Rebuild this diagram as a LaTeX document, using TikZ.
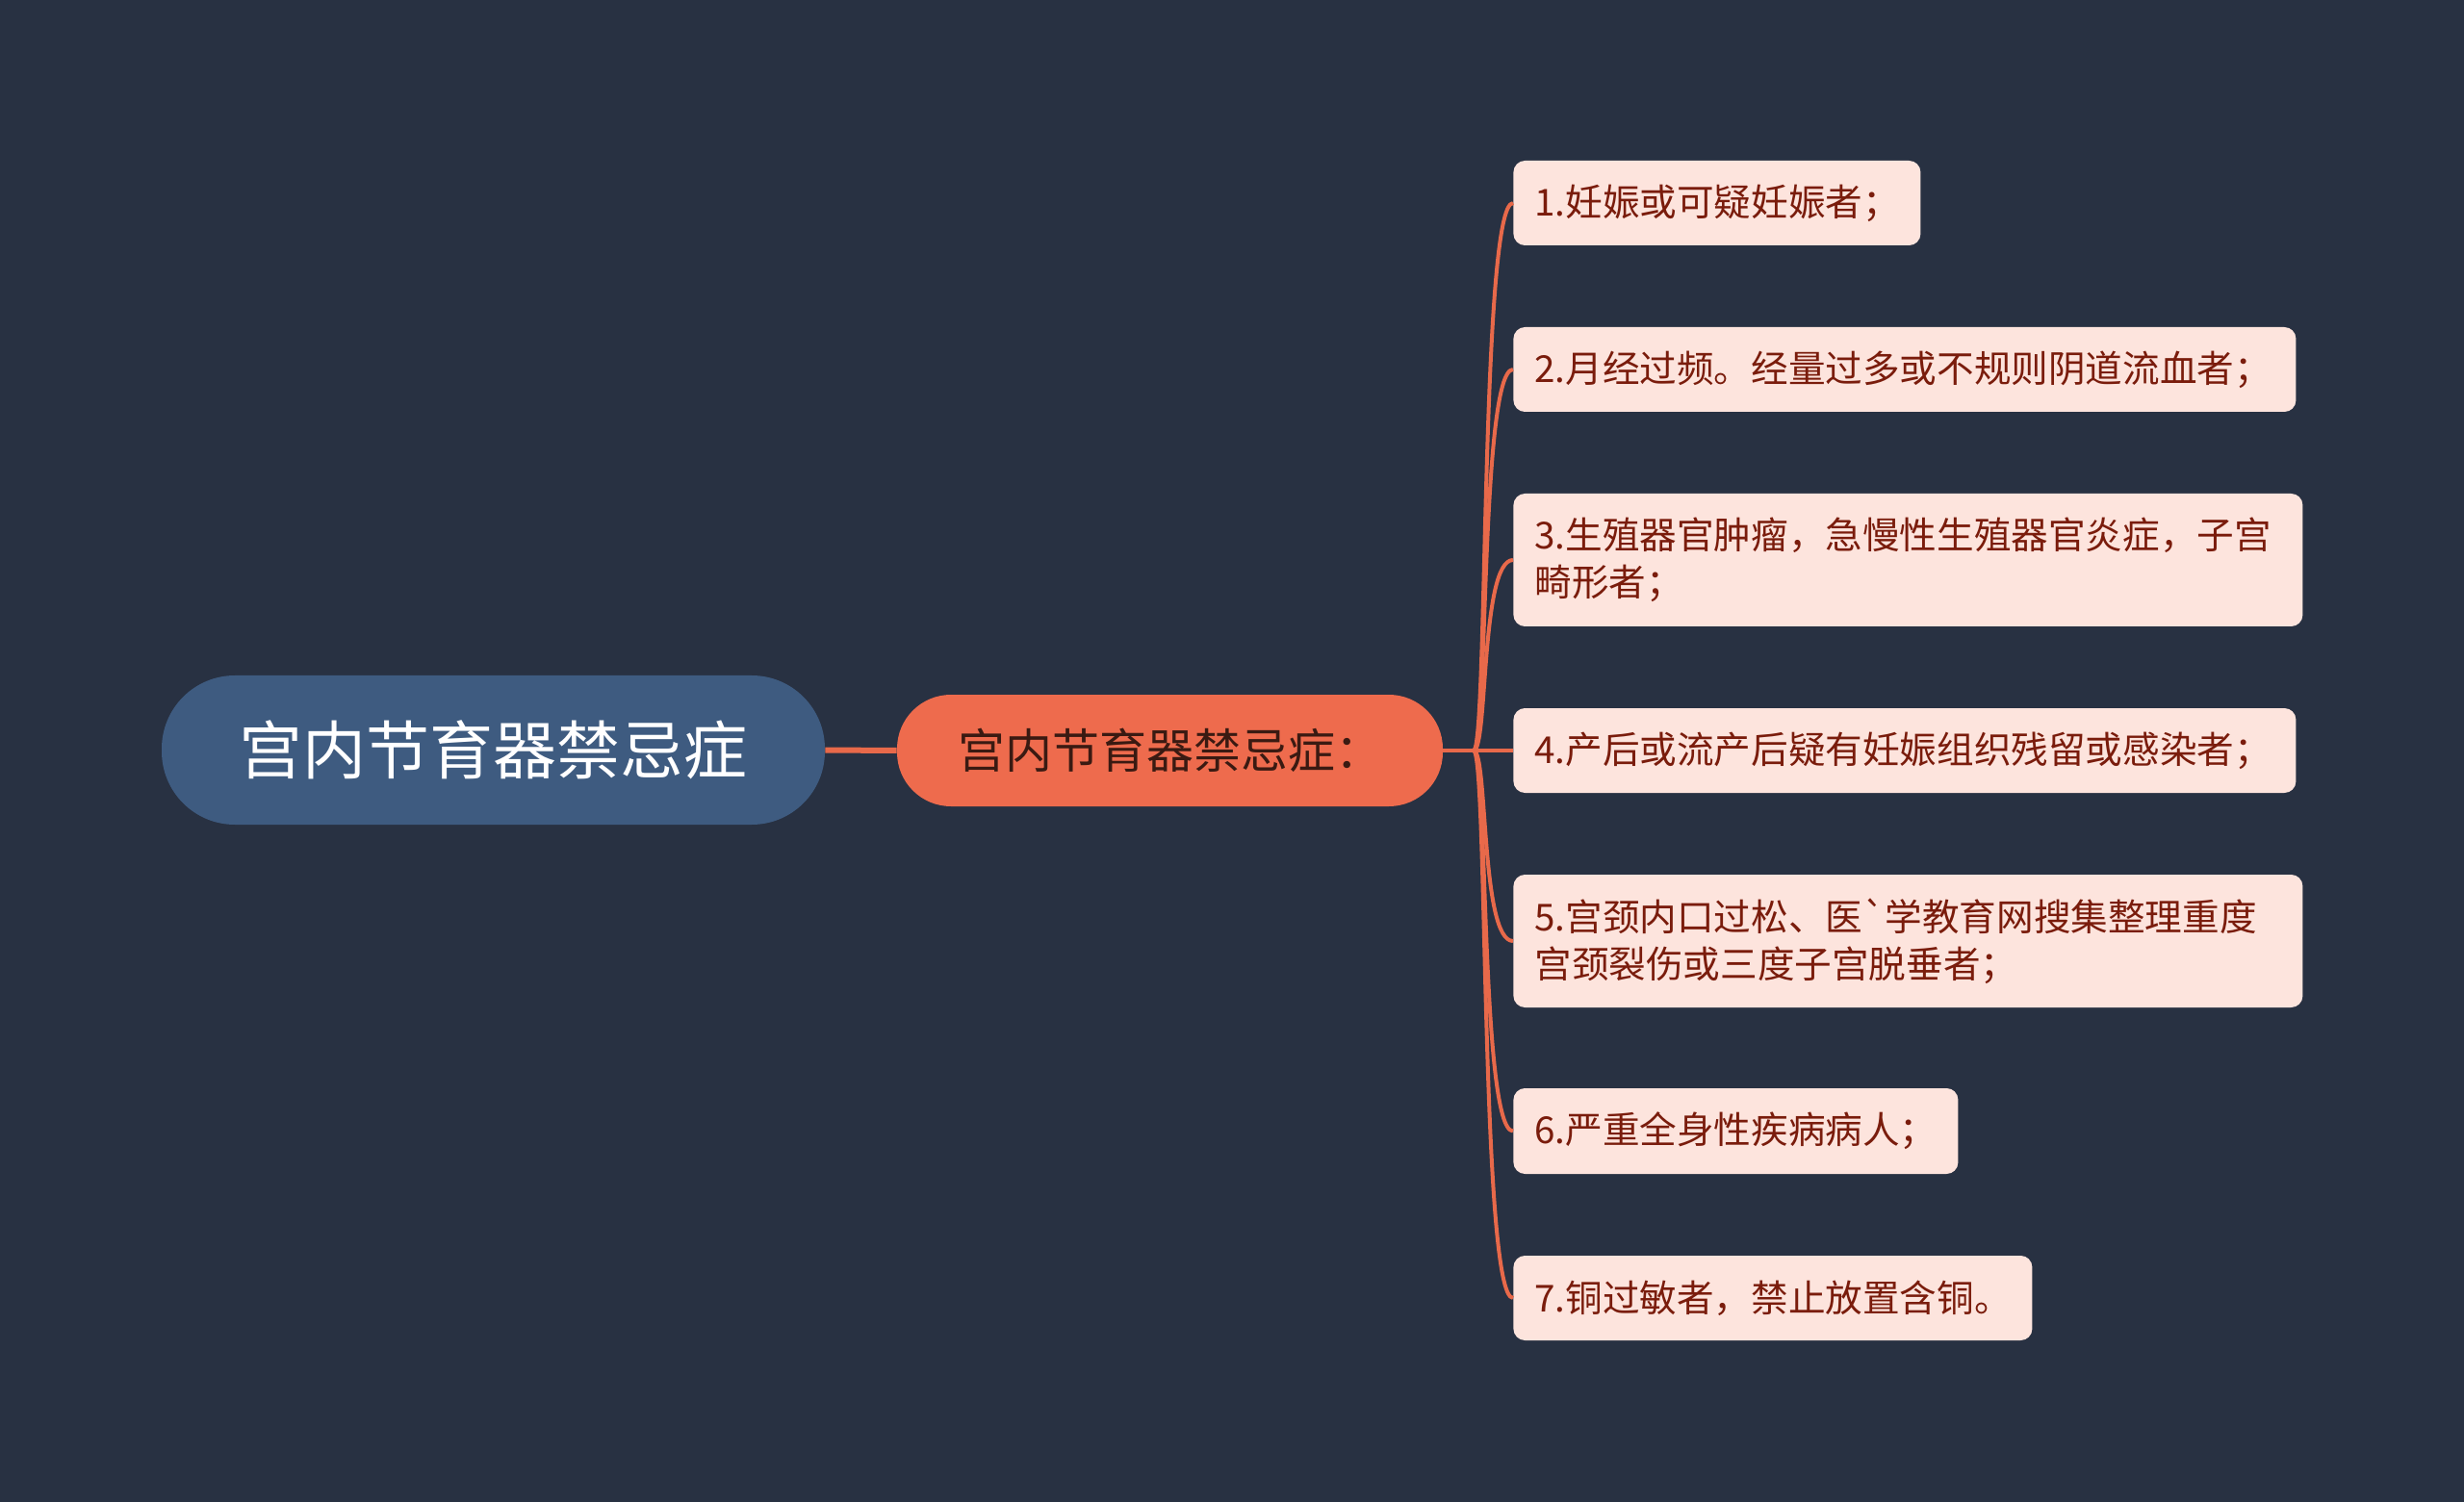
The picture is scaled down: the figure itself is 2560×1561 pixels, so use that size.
\documentclass[tikz,border=0pt]{standalone}
\usepackage{fontspec}
\setmainfont{Noto Sans CJK SC}
\definecolor{bgc}{HTML}{283142}
\definecolor{rootc}{HTML}{3E5B80}
\definecolor{mainc}{HTML}{EE6B4D}
\definecolor{maintext}{HTML}{3A1A12}
\definecolor{childc}{HTML}{FDE4DD}
\definecolor{childtext}{HTML}{7A1C0C}
\definecolor{linec}{HTML}{E8694A}
\begin{document}
\begin{tikzpicture}[x=0.5pt,y=-0.5pt,
  rootbox/.style={fill=rootc, rounded corners=38pt, text=white, font=\fontsize{33pt}{38pt}\selectfont, inner sep=0pt},
  mainbox/.style={fill=mainc, rounded corners=28pt, text=maintext, font=\fontsize{24.5pt}{28pt}\selectfont, inner sep=0pt},
  childbox/.style={fill=childc, rounded corners=6pt, text=childtext, font=\fontsize{19.3pt}{24.5pt}\selectfont, anchor=west, align=left, inner xsep=11pt, inner ysep=0pt},
  branch/.style={draw=linec, line width=2pt},
  trunk/.style={draw=linec, line width=3pt}]
\fill[bgc] (0,0) rectangle (2560,1561);
\useasboundingbox (0,0) rectangle (2560,1561);

\node[rootbox, minimum width=344.5pt, minimum height=77.5pt] (root) at (512.5,779.5) {宫内节育器禁忌症};
\node[mainbox, minimum width=283.5pt, minimum height=58pt] (main) at (1215.5,780) {宫内节育器禁忌症：\hspace{6pt}};

\node[childbox, text width=189.5pt, minimum height=44pt] (c1) at (1572,211) {1.妊娠或可疑妊娠者；};
\node[childbox, text width=384.5pt, minimum height=44pt] (c2) at (1572,384) {2.月经过频。经量过多或不规则阴道流血者；};
\node[childbox, text width=388pt, minimum height=69pt] (c3) at (1572,582) {3.生殖器官肿瘤，急慢性生殖器官炎症，子宫\\畸形者；};
\node[childbox, text width=384.5pt, minimum height=44pt] (c4) at (1572,780) {4.产后或流产后疑有妊娠组织残留或感染者；};
\node[childbox, text width=388pt, minimum height=69pt] (c5) at (1572,978) {5.宫颈内口过松、医\textasciigrave 学教育网搜集整理重度\\宫颈裂伤或三度子宫脱垂者；};
\node[childbox, text width=209pt, minimum height=44.5pt] (c6) at (1572,1175.5) {6.严重全身性疾病病人；};
\node[childbox, text width=247.5pt, minimum height=44pt] (c7) at (1572,1349) {7.铜过敏者，禁止放置含铜。};

\coordinate (hub) at (1531,780);
\draw[trunk] (root.east) -- (main.west);
\draw[branch] (main.east) -- (hub);
\foreach \c/\y in {c1/211,c2/384,c3/582,c4/780,c5/978,c6/1175.5,c7/1349}{
  \draw[branch] (hub) .. controls (1546,780) and (1538,\y) .. (\c.west);
}
\end{tikzpicture}
\end{document}
